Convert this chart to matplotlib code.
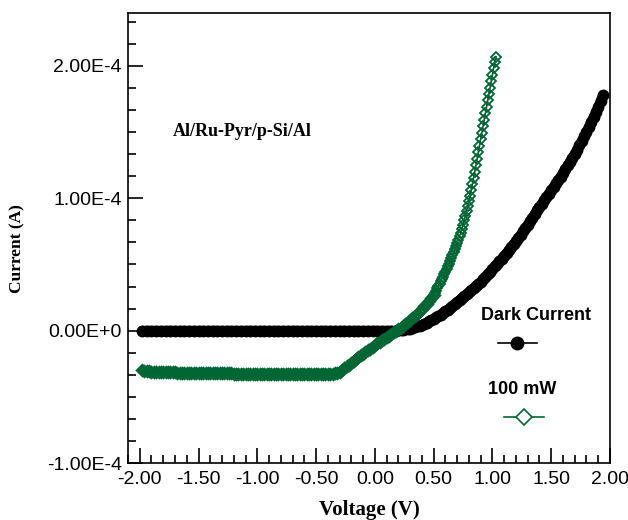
import matplotlib
matplotlib.use('Agg')
import matplotlib.pyplot as plt
from matplotlib.ticker import MultipleLocator, FuncFormatter
from matplotlib.lines import Line2D
import numpy as np

# voltage sweep steps (V); current readings in microamps
DARK_FLAT_END = 0.14
DARK_FLAT_STEP = 0.04
dark_flat_ua = [
    0.0, 0.0, 0.0, 0.0, 0.0, 0.0, 0.0, 0.0, 0.0, 0.0, 0.0, 0.0, 0.0, 0.0,
    0.0, 0.0, 0.0, 0.0, 0.0, 0.0, 0.0, 0.0, 0.0, 0.0, 0.0, 0.0, 0.0, 0.0,
    0.0, 0.0, 0.0, 0.0, 0.0, 0.0, 0.0, 0.0, 0.0, 0.0, 0.0, 0.0, 0.0, 0.0,
    0.0, 0.0, 0.0, 0.0, 0.0, 0.0, 0.0, 0.0, 0.0, 0.0, 0.0, 0.0,
]

DARK_RISE_START = 0.18
DARK_RISE_STEP = 0.02
dark_rise_ua = [
    0.0, 0.2, 0.4, 0.6, 0.9, 1.2, 1.6, 2.1, 2.6, 3.2,
    3.8, 4.5, 5.3, 6.1, 7.0, 8.0, 9.0, 10.0, 11.1, 12.2,
    13.3, 14.5, 15.8, 17.1, 18.5, 20.0, 21.5, 23.0, 24.5, 26.0,
    27.5, 29.0, 30.6, 32.2, 33.8, 35.4, 37.0, 38.9, 40.8, 42.7,
    44.6, 46.5, 48.5, 50.5, 52.5, 54.5, 56.5, 58.7, 60.9, 63.1,
    65.3, 67.5, 70.0, 72.5, 75.0, 77.5, 80.0, 82.7, 85.4, 88.1,
    90.8, 93.5, 96.0, 98.5, 101.0, 103.5, 106.0, 108.6, 111.2, 113.8,
    116.4, 119.0, 121.9, 124.8, 127.7, 130.6, 133.5, 136.8, 140.1, 143.4,
    146.7, 150.0, 153.8, 157.6, 161.4, 165.2, 169.0, 173.5, 178.0,
]

LIGHT_A_END = 0.50
LIGHT_A_STEP = 0.02
light_a_ua = [
    -29.8, -30.2, -30.5, -30.7, -30.9, -31.0, -31.1, -31.2, -31.3, -31.3,
    -31.4, -31.5, -31.5, -31.6, -31.6, -31.7, -31.7, -31.8, -31.8, -31.8,
    -31.9, -31.9, -32.0, -32.0, -32.0,
    -32.1, -32.1, -32.1, -32.1, -32.2, -32.2, -32.2, -32.2, -32.2, -32.3,
    -32.3, -32.3, -32.3, -32.3, -32.4, -32.4, -32.4, -32.4, -32.4, -32.4,
    -32.5, -32.5, -32.5, -32.5, -32.5,
    -32.5, -32.6, -32.6, -32.6, -32.6, -32.6, -32.7, -32.7, -32.7, -32.7,
    -32.7, -32.7, -32.8, -32.8, -32.8, -32.8, -32.8, -32.8, -32.8, -32.8,
    -32.8, -32.8, -32.8, -32.8, -32.8, -32.7, -32.7, -32.7, -32.7, -32.7,
    -32.6,
    -32.6, -32.3, -31.8, -31.0, -29.8, -28.4, -27.0, -25.6, -24.2, -22.8,
    -21.4, -20.0, -18.7, -17.4, -16.1, -14.8, -13.5, -12.2, -10.9, -9.7,
    -8.5, -7.3, -6.1, -4.9, -3.7, -2.5, -1.3, -0.1, 1.1, 2.3,
    3.6, 4.9, 6.3, 7.8, 9.3, 10.9, 12.6, 14.5, 16.5, 18.3,
    20.3, 22.4, 24.6, 27.0,
]

LIGHT_B_START = 0.51
LIGHT_B_STEP = 0.01
light_b_ua = [
    28.6, 30.3, 32.0, 33.7, 35.5, 37.3, 39.1, 40.9, 42.7, 44.6,
    46.5, 48.5, 50.5, 52.6, 54.7, 56.9, 59.1, 61.4, 63.8, 66.2,
    68.7, 71.3, 74.0, 76.8, 80.0, 83.3, 86.8, 90.4, 94.1, 97.9,
    102.0, 106.3, 110.8, 115.4, 120.1, 124.9, 129.8, 134.7, 139.6, 144.5,
    149.4, 154.3, 159.2, 164.1, 169.0, 173.9, 178.8, 183.7, 188.6, 193.5,
    198.4, 203.3, 207.0,
]

GREEN = '#006633'

v_dark = np.concatenate([
    DARK_FLAT_END - DARK_FLAT_STEP * np.arange(len(dark_flat_ua))[::-1],
    DARK_RISE_START + DARK_RISE_STEP * np.arange(len(dark_rise_ua)),
])
i_dark = np.array(dark_flat_ua + dark_rise_ua) * 1e-6

v_light_a = LIGHT_A_END - LIGHT_A_STEP * np.arange(len(light_a_ua))[::-1]
i_light_a = np.array(light_a_ua) * 1e-6
v_light_b = np.concatenate([[LIGHT_A_END],
                            LIGHT_B_START + LIGHT_B_STEP * np.arange(len(light_b_ua))])
i_light_b = np.array([light_a_ua[-1]] + light_b_ua) * 1e-6

fig = plt.figure(figsize=(6.28, 5.2), dpi=100)
ax = fig.add_axes([0.2038, 0.1096, 0.7675, 0.8654])

ax.plot(v_dark, i_dark, color='black', linewidth=7, solid_capstyle='round',
        marker='o', markersize=7.5, markerfacecolor='black',
        markeredgecolor='black')
# 100 mW sweep: dense reverse part merges into a solid band
ax.plot(v_light_a, i_light_a, color=GREEN, linewidth=2.5, marker='D',
        markersize=5.5, markerfacecolor='none', markeredgecolor=GREEN,
        markeredgewidth=2.2)
ax.plot(v_light_b, i_light_b, color=GREEN, linewidth=1.2, marker='D',
        markersize=5.5, markerfacecolor='none', markeredgecolor=GREEN,
        markeredgewidth=1.3)

ax.set_xlim(-2.1, 2.0)
ax.set_ylim(-1e-4, 2.4e-4)
ax.xaxis.set_major_locator(MultipleLocator(0.5))
ax.xaxis.set_minor_locator(MultipleLocator(0.1))
ax.yaxis.set_major_locator(MultipleLocator(1e-4))
ax.yaxis.set_minor_locator(MultipleLocator(1e-4 / 6))


def fmt_x(v, pos):
    s = '%.2f' % v
    return '0.00' if s == '-0.00' else s


def fmt_y(v, pos):
    if abs(v) < 1e-12:
        return '0.00E+0'
    return '%.2fE-4' % (v / 1e-4)


ax.xaxis.set_major_formatter(FuncFormatter(fmt_x))
ax.yaxis.set_major_formatter(FuncFormatter(fmt_y))

ax.tick_params(which='both', direction='in', top=False, right=False,
               width=1.2, labelsize=14)
ax.tick_params(which='major', length=11)
ax.tick_params(which='minor', length=6)
ax.tick_params(axis='x', pad=6)
ax.tick_params(axis='y', pad=4.5)
for lab in ax.get_xticklabels() + ax.get_yticklabels():
    lab.set_family('Liberation Sans')
for sp in ax.spines.values():
    sp.set_linewidth(1.2)

ax.set_xlabel('Voltage (V)', family='Liberation Serif', fontweight='bold',
              fontsize=15)
ax.set_ylabel('Current (A)', family='Liberation Serif', fontweight='bold',
              fontsize=12.5)
ax.xaxis.set_label_coords(0.5, -0.083)
ax.yaxis.set_label_coords(-0.212, 0.476)

ax.text(0.0934, 0.736, 'Al/Ru-Pyr/p-Si/Al', transform=ax.transAxes,
        family='Liberation Serif', fontweight='bold', fontsize=13,
        ha='left', va='center')

# hand-placed legend
ax.text(0.846, 0.327, 'Dark Current', transform=ax.transAxes,
        family='Liberation Sans', fontweight='bold', fontsize=13,
        ha='center', va='center')
ax.add_line(Line2D([0.768, 0.849], [0.266, 0.266], transform=ax.transAxes,
                   color='black', linewidth=1.2))
ax.add_line(Line2D([0.807], [0.266], transform=ax.transAxes, marker='o',
                   markersize=9, color='black'))
ax.text(0.817, 0.164, '100 mW', transform=ax.transAxes,
        family='Liberation Sans', fontweight='bold', fontsize=13,
        ha='center', va='center')
ax.add_line(Line2D([0.780, 0.863], [0.103, 0.103], transform=ax.transAxes,
                   color=GREEN, linewidth=1.2))
ax.add_line(Line2D([0.822], [0.103], transform=ax.transAxes, marker='D',
                   markersize=8, markerfacecolor='white',
                   markeredgecolor=GREEN, markeredgewidth=1.2))

fig.savefig('out.png', dpi=100)
